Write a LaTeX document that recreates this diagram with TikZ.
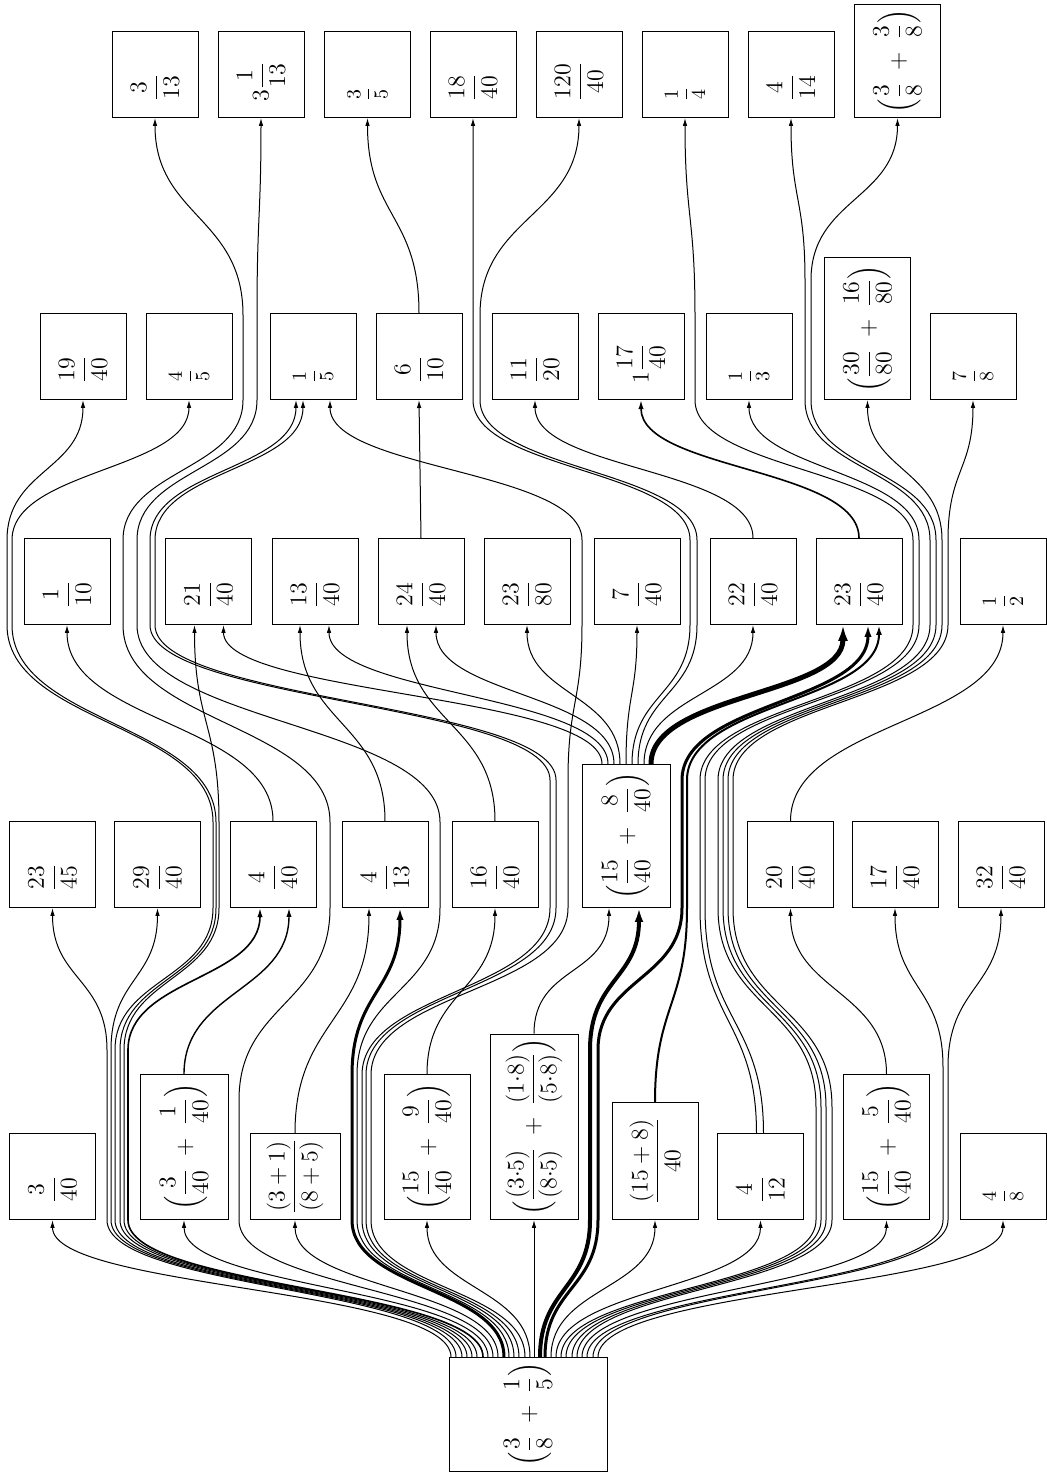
\documentclass[tikz,border=0pt]{standalone}
\usepackage{amsmath}
\usetikzlibrary{calc,arrows.meta}
\tikzset{
  box/.style={draw, line width=0.5pt, rotate=90, anchor=west, minimum width=43pt, minimum height=43pt, inner sep=2pt, font=\fontsize{11.5}{14}\selectfont},
  ln/.style={line width=0.5pt, -{Latex[length=3pt 2,width=1.6pt 1.4]}},
}
\newcommand{\lbox}[1]{\makebox[27pt][l]{$\displaystyle #1$}}
\newcommand{\sfr}[2]{\makebox[27pt][l]{\fontsize{10}{12}\selectfont$\dfrac{#1}{#2}$}}

\begin{document}
\begin{tikzpicture}[x=0.5pt,y=0.5pt]
			%%%%% START %%%%%
			\useasboundingbox (0,0) rectangle (1046,1480);
			
			\node[box, minimum width=57pt, minimum height=79pt, font=\fontsize{13}{15}\selectfont] (r) at (528,8) {$\Bigl(\dfrac{3}{8} \;+\; \dfrac{1}{5}\Bigr)$};
			
			\node[box] (a1) at (52.5,260) {\lbox{\dfrac{3}{40}}};
			\node[box, minimum width=72.5pt, minimum height=44pt] (a2) at (184,260) {$\Bigl(\dfrac{3}{40} \;+\; \dfrac{1}{40}\Bigr)$};
			\node[box, minimum height=45pt] (a3) at (295,260) {$\dfrac{(3+1)}{(8+5)}$};
			\node[box, minimum width=72.5pt] (a4) at (427,260) {$\Bigl(\dfrac{15}{40} \;+\; \dfrac{9}{40}\Bigr)$};
			\node[box, minimum width=87.5pt, minimum height=44pt] (a5) at (534,260) {$\Bigl(\dfrac{(3{\cdot}5)}{(8{\cdot}5)} \;+\; \dfrac{(1{\cdot}8)}{(5{\cdot}8)}\Bigr)$};
			\node[box, minimum width=58.5pt] (a6) at (655,260) {$\dfrac{(15+8)}{40}$};
			\node[box] (a7) at (760.5,260) {\lbox{\dfrac{4}{12}}};
			\node[box, minimum width=72.5pt] (a8) at (886.5,260) {$\Bigl(\dfrac{15}{40} \;+\; \dfrac{5}{40}\Bigr)$};
			\node[box] (a9) at (1003,260) {\sfr{4}{8}};
			
			\node[box] (b1) at (52.5,572) {\lbox{\dfrac{23}{45}}};
			\node[box] (b2) at (157.5,572) {\lbox{\dfrac{29}{40}}};
			\node[box] (b3) at (273,572) {\lbox{\dfrac{4}{40}}};
			\node[box] (b4) at (385,572) {\lbox{\dfrac{4}{13}}};
			\node[box] (b5) at (495,572) {\lbox{\dfrac{16}{40}}};
			\node[box, minimum width=71.5pt, minimum height=44pt] (b6) at (626,572) {$\Bigl(\dfrac{15}{40} \;+\; \dfrac{8}{40}\Bigr)$};
			\node[box] (b7) at (790.5,572) {\lbox{\dfrac{20}{40}}};
			\node[box] (b8) at (895,572) {\lbox{\dfrac{17}{40}}};
			\node[box] (b9) at (1001,572) {\lbox{\dfrac{32}{40}}};
			
			\node[box] (c1) at (67,855) {\lbox{\dfrac{1}{10}}};
			\node[box] (c2) at (208.5,855) {\lbox{\dfrac{21}{40}}};
			\node[box] (c3) at (315,855) {\lbox{\dfrac{13}{40}}};
			\node[box] (c4) at (421,855) {\lbox{\dfrac{24}{40}}};
			\node[box] (c5) at (527,855) {\lbox{\dfrac{23}{80}}};
			\node[box] (c6) at (637,855) {\lbox{\dfrac{7}{40}}};
			\node[box] (c7) at (753,855) {\lbox{\dfrac{22}{40}}};
			\node[box] (c8) at (859,855) {\lbox{\dfrac{23}{40}}};
			\node[box] (c9) at (1003,855) {\sfr{1}{2}};
			
			\node[box] (d1) at (83,1080) {\lbox{\dfrac{19}{40}}};
			\node[box] (d2) at (189,1080) {\sfr{4}{5}};
			\node[box] (d3) at (313,1080) {\sfr{1}{5}};
			\node[box] (d4) at (419,1080) {\lbox{\dfrac{6}{10}}};
			\node[box] (d5) at (535,1080) {\lbox{\dfrac{11}{20}}};
			\node[box] (d6) at (641,1080) {\lbox{1\dfrac{17}{40}}};
			\node[box] (d7) at (749,1080) {\sfr{1}{3}};
			\node[box, minimum width=71pt] (d8) at (867.5,1080) {$\Bigl(\dfrac{30}{80} \;+\; \dfrac{16}{80}\Bigr)$};
			\node[box] (d9) at (973,1080) {\sfr{7}{8}};
			
			\node[box] (e1) at (155,1362) {\lbox{\dfrac{3}{13}}};
			\node[box] (e2) at (261,1362) {\lbox{3\dfrac{1}{13}}};
			\node[box] (e3) at (367.5,1362) {\sfr{3}{5}};
			\node[box] (e4) at (473,1362) {\lbox{\dfrac{18}{40}}};
			\node[box] (e5) at (579,1362) {\lbox{\dfrac{120}{40}}};
			\node[box] (e6) at (685,1362) {\sfr{1}{4}};
			\node[box] (e7) at (791,1362) {\lbox{\dfrac{4}{14}}};
			\node[box, minimum width=56.5pt] (e8) at (897.5,1362) {$\Bigl(\dfrac{3}{8} \;+\; \dfrac{3}{8}\Bigr)$};
			
			%%%%% FROM THE ROOT %%%%%
			\draw[ln] ($(r.east)+(-77,0)$) .. controls +(0,69) and +(0,-69) .. (a1.west);
			\draw[ln] ($(r.east)+(-72,0)$) .. controls +(0,69) and +(0,-69) .. (107,260) -- (107,430) .. controls +(0,71) and +(0,-71) .. (b1.west);
			\draw[ln] ($(r.east)+(-66,0)$) .. controls +(0,69) and +(0,-69) .. (111,260) -- (111,430) .. controls +(0,71) and +(0,-71) .. (b2.west);
			\draw[ln] ($(r.east)+(-61,0)$) .. controls +(0,69) and +(0,-69) .. (115,260) -- (115,430) .. controls +(0,71) and +(0,-71) .. (213,572) -- (213,658) .. controls +(0,98) and +(0,-98) .. (7,855) -- (7,940) .. controls +(0,70) and +(0,-70) .. (d1.west);
			\draw[ln] ($(r.east)+(-56,0)$) .. controls +(0,69) and +(0,-69) .. (120,260) -- (120,430) .. controls +(0,71) and +(0,-71) .. (216,572) -- (216,658) .. controls +(0,98) and +(0,-98) .. (12,855) -- (12,940) .. controls +(0,70) and +(0,-70) .. (d2.west);
			\draw[ln] ($(r.east)+(-51,0)$) .. controls +(0,69) and +(0,-69) .. (124,260) -- (124,430) .. controls +(0,71) and +(0,-71) .. (219,572) -- (219,658) .. controls +(0,98) and +(0,-98) .. ($(c2.west)+(-14,0)$);
			\draw[ln, line width=0.8pt] ($(r.east)+(-45,0)$) .. controls +(0,69) and +(0,-69) .. (128,260) -- (128,430) .. controls +(0,71) and +(0,-71) .. ($(b3.west)+(-13,0)$);
			\draw[ln] ($(r.east)+(-40,0)$) .. controls +(0,69) and +(0,-69) .. (a2.west);
			\draw[ln] ($(r.east)+(-35,0)$) .. controls +(0,69) and +(0,-69) .. (239,260) -- (239,380) .. controls +(0,96) and +(0,-96) .. (330,572) -- (330,658) .. controls +(0,98) and +(0,-98) .. (123,855) -- (123,940) .. controls +(0,70) and +(0,-70) .. (243,1080) -- (243,1165) .. controls +(0,98) and +(0,-98) .. (e1.west);
			\draw[ln] ($(r.east)+(-30,0)$) .. controls +(0,69) and +(0,-69) .. (a3.west);
			\draw[ln, line width=1.5pt] ($(r.east)+(-24,0)$) .. controls +(0,69) and +(0,-69) .. (352,260) -- (352,405) .. controls +(0,83) and +(0,-83) .. ($(b4.west)+(15,0)$);
			\draw[ln] ($(r.east)+(-19,0)$) .. controls +(0,69) and +(0,-69) .. (357,260) -- (357,405) .. controls +(0,83) and +(0,-83) .. (440,572) -- (440,658) .. controls +(0,98) and +(0,-98) .. (137,855) -- (137,940) .. controls +(0,70) and +(0,-70) .. (257,1080) -- (257,1165) .. controls +(0,98) and +(0,-98) .. (e2.west);
			\draw[ln] ($(r.east)+(-14,0)$) .. controls +(0,69) and +(0,-69) .. (362,260) -- (362,405) .. controls +(0,83) and +(0,-83) .. (550,572) -- (550,700) .. controls +(0,77) and +(0,-77) .. (150,855) -- (150,940) .. controls +(0,70) and +(0,-70) .. ($(d3.west)+(-17,0)$);
			\draw[ln] ($(r.east)+(-9,0)$) .. controls +(0,69) and +(0,-69) .. (366,260) -- (366,405) .. controls +(0,83) and +(0,-83) .. (556,572) -- (556,700) .. controls +(0,77) and +(0,-77) .. (155,855) -- (155,940) .. controls +(0,70) and +(0,-70) .. ($(d3.west)+(-10,0)$);
			\draw[ln] ($(r.east)+(-3,0)$) .. controls +(0,69) and +(0,-69) .. (371,260) -- (371,405) .. controls +(0,83) and +(0,-83) .. (568,572) -- (568,700) .. controls +(0,77) and +(0,-77) .. (582,855) -- (582,940) .. controls +(0,70) and +(0,-70) .. ($(d3.west)+(17,0)$);
			\draw[ln] ($(r.east)+(2,0)$) .. controls +(0,69) and +(0,-69) .. (a4.west);
			\draw[ln] ($(r.east)+(6,0)$) -- (a5.west);
			\draw[ln, line width=2pt] ($(r.east)+(12,0)$) .. controls +(0,69) and +(0,-69) .. (590,260) -- (590,430) .. controls +(0,71) and +(0,-71) .. ($(b6.west)+(13,0)$);
			\draw[ln, line width=1.5pt] ($(r.east)+(17,0)$) .. controls +(0,69) and +(0,-69) .. (598,260) -- (598,430) .. controls +(0,71) and +(0,-71) .. (682,572) -- (682,700) .. controls +(0,77) and +(0,-77) .. ($(c8.west)+(9,0)$);
			\draw[ln] ($(r.east)+(23,0)$) .. controls +(0,69) and +(0,-69) .. (a6.west);
			\draw[ln] ($(r.east)+(28,0)$) .. controls +(0,69) and +(0,-69) .. (a7.west);
			\draw[ln] ($(r.east)+(33,0)$) .. controls +(0,69) and +(0,-69) .. (816,260) -- (816,373) .. controls +(0,100) and +(0,-100) .. (718,572) -- (718,700) .. controls +(0,77) and +(0,-77) .. (930,855) -- (930,940) .. controls +(0,70) and +(0,-70) .. (805,1080) -- (805,1200) .. controls +(0,81) and +(0,-81) .. (e7.west);
			\draw[ln] ($(r.east)+(38,0)$) .. controls +(0,69) and +(0,-69) .. (821,260) -- (821,373) .. controls +(0,100) and +(0,-100) .. (723,572) -- (723,700) .. controls +(0,77) and +(0,-77) .. (936,855) -- (936,940) .. controls +(0,70) and +(0,-70) .. (811,1080) -- (811,1200) .. controls +(0,81) and +(0,-81) .. (e8.west);
			\draw[ln] ($(r.east)+(44,0)$) .. controls +(0,69) and +(0,-69) .. (826,260) -- (826,373) .. controls +(0,100) and +(0,-100) .. (728,572) -- (728,700) .. controls +(0,77) and +(0,-77) .. (942,855) -- (942,940) .. controls +(0,70) and +(0,-70) .. (d8.west);
			\draw[ln] ($(r.east)+(49,0)$) .. controls +(0,69) and +(0,-69) .. (832,260) -- (832,373) .. controls +(0,100) and +(0,-100) .. (733,572) -- (733,700) .. controls +(0,77) and +(0,-77) .. (948,855) -- (948,940) .. controls +(0,70) and +(0,-70) .. (d9.west);
			\draw[ln] ($(r.east)+(54,0)$) .. controls +(0,69) and +(0,-69) .. (a8.west);
			\draw[ln] ($(r.east)+(59,0)$) .. controls +(0,69) and +(0,-69) .. (943,260) -- (943,413) .. controls +(0,80) and +(0,-80) .. (b8.west);
			\draw[ln] ($(r.east)+(65,0)$) .. controls +(0,69) and +(0,-69) .. (948,260) -- (948,413) .. controls +(0,80) and +(0,-80) .. (b9.west);
			\draw[ln] ($(r.east)+(70,0)$) .. controls +(0,69) and +(0,-69) .. (a9.west);
			
			%%%%% FIRST ROW %%%%%
			\draw[ln, line width=0.7pt] (a2.east) .. controls +(0,83) and +(0,-83) .. ($(b3.west)+(16,0)$);
			\draw[ln] (a3.east) .. controls +(0,112) and +(0,-112) .. ($(b4.west)+(-16,0)$);
			\draw[ln] (a4.east) .. controls +(0,83) and +(0,-83) .. (b5.west);
			\draw[ln] (a5.east) .. controls +(0,68) and +(0,-68) .. ($(b6.west)+(-17,0)$);
			\draw[ln, line width=1pt] (a6.east) .. controls +(0,97) and +(0,-97) .. (687,572) -- (687,700) .. controls +(0,77) and +(0,-77) .. ($(c8.west)+(20,0)$);
			\draw[ln] ($(a7.east)+(-4,0)$) .. controls +(0,112) and +(0,-112) .. (700,572) -- (700,700) .. controls +(0,77) and +(0,-77) .. (913,855) -- (913,940) .. controls +(0,70) and +(0,-70) .. (695,1080) -- (695,1165) .. controls +(0,98) and +(0,-98) .. (e6.west);
			\draw[ln] ($(a7.east)+(3,0)$) .. controls +(0,112) and +(0,-112) .. (705,572) -- (705,700) .. controls +(0,77) and +(0,-77) .. (919,855) -- (919,940) .. controls +(0,70) and +(0,-70) .. (d7.west);
			\draw[ln] (a8.east) .. controls +(0,83) and +(0,-83) .. (b7.west);
			
			%%%%% SECOND ROW %%%%%
			\draw[ln] (b3.east) .. controls +(0,98) and +(0,-98) .. (c1.west);
			\draw[ln] (b4.east) .. controls +(0,98) and +(0,-98) .. ($(c3.west)+(-15,0)$);
			\draw[ln] (b5.east) .. controls +(0,98) and +(0,-98) .. ($(c4.west)+(-14,0)$);
			\draw[ln] (b7.east) .. controls +(0,98) and +(0,-98) .. (c9.west);
			\draw[ln] ($(b6.east)+(-24,0)$) .. controls +(0,70) and +(0,-70) .. ($(c2.west)+(15,0)$);
			\draw[ln] ($(b6.east)+(-18,0)$) .. controls +(0,70) and +(0,-70) .. ($(c3.west)+(14,0)$);
			\draw[ln] ($(b6.east)+(-12,0)$) .. controls +(0,70) and +(0,-70) .. ($(c4.west)+(15,0)$);
			\draw[ln] ($(b6.east)+(-6,0)$) .. controls +(0,70) and +(0,-70) .. (c5.west);
			\draw[ln] (b6.east) .. controls +(0,70) and +(0,-70) .. (c6.west);
			\draw[ln] ($(b6.east)+(6,0)$) .. controls +(0,70) and +(0,-70) .. (690,855) -- (690,940) .. controls +(0,70) and +(0,-70) .. (473,1080) -- (473,1165) .. controls +(0,98) and +(0,-98) .. (e4.west);
			\draw[ln] ($(b6.east)+(12,0)$) .. controls +(0,70) and +(0,-70) .. (697,855) -- (697,940) .. controls +(0,70) and +(0,-70) .. (480,1080) -- (480,1165) .. controls +(0,98) and +(0,-98) .. (e5.west);
			\draw[ln] ($(b6.east)+(18,0)$) .. controls +(0,70) and +(0,-70) .. (c7.west);
			\draw[ln, line width=2.5pt] ($(b6.east)+(25,0)$) .. controls +(0,70) and +(0,-70) .. ($(c8.west)+(-16,0)$);
			
			%%%%% THIRD AND FOURTH ROW %%%%%
			\draw[ln] (c4.east) -- (d4.west);
			\draw[ln] (c7.east) .. controls +(0,70) and +(0,-70) .. (d5.west);
			\draw[ln, line width=0.8pt] (c8.east) .. controls +(0,70) and +(0,-70) .. (d6.west);
			\draw[ln] (d4.east) .. controls +(0,98) and +(0,-98) .. (e3.west);
			
			%%%%% END %%%%%
\end{tikzpicture}
\end{document}
